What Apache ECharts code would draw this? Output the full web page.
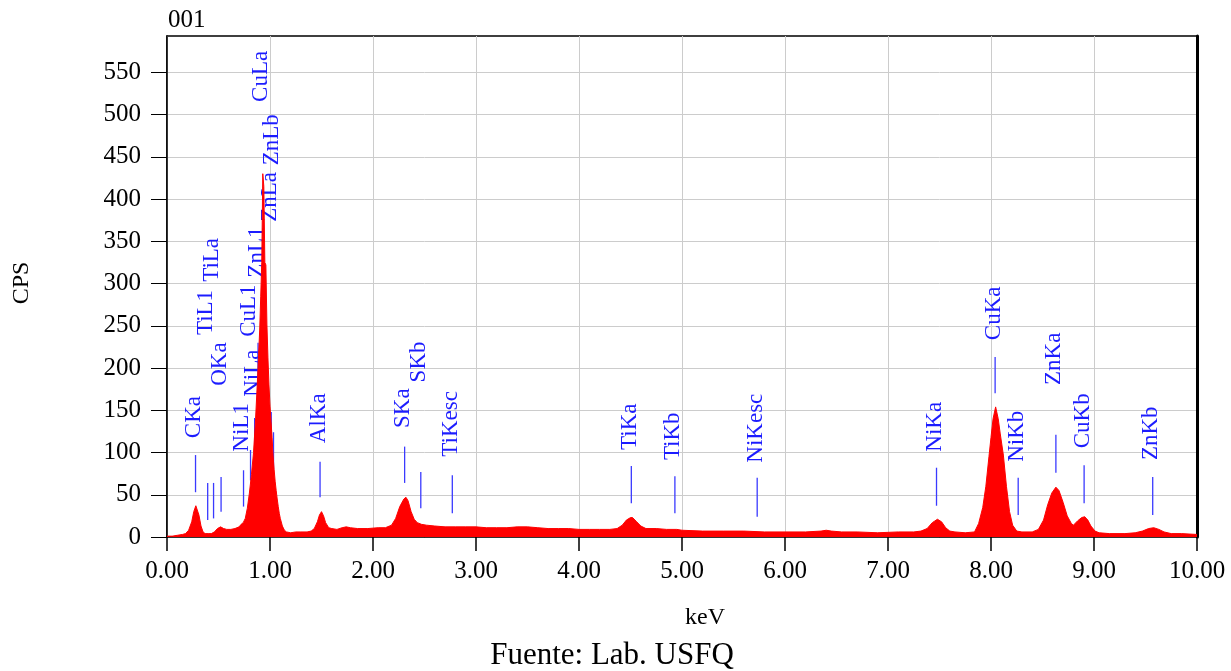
<!DOCTYPE html>
<html>
<head>
<meta charset="utf-8">
<title>EDS 001</title>
<script src="https://cdn.jsdelivr.net/npm/echarts@6/dist/echarts.min.js"></script>
<style>
  html, body { margin: 0; padding: 0; background: #fff; }
  #chart { width: 1231px; height: 671px; }
</style>
</head>
<body>
<div id="chart"></div>
<script>
// Spectrum: energy (keV) and counts per second
const energyKeV = [
  0.00, 0.05, 0.10, 0.15, 0.18, 0.21, 0.24, 0.26, 0.28, 0.29, 0.31, 0.33, 0.35, 0.37, 0.40, 0.43,
  0.46, 0.49, 0.52, 0.55, 0.58, 0.62, 0.66, 0.70, 0.72, 0.74, 0.76, 0.78, 0.80, 0.82, 0.84, 0.86,
  0.88, 0.90, 0.91, 0.92, 0.93, 0.94, 0.95, 0.96, 0.97, 0.98, 0.99, 1.00, 1.01, 1.02, 1.03, 1.04,
  1.05, 1.06, 1.07, 1.08, 1.09, 1.10, 1.12, 1.14, 1.16, 1.20, 1.25, 1.30, 1.36, 1.40, 1.43, 1.46,
  1.48, 1.50, 1.52, 1.54, 1.57, 1.60, 1.65, 1.70, 1.74, 1.78, 1.85, 1.95, 2.05, 2.12, 2.18, 2.22,
  2.26, 2.30, 2.32, 2.34, 2.37, 2.40, 2.43, 2.47, 2.52, 2.60, 2.70, 2.80, 2.90, 3.00, 3.10, 3.20,
  3.30, 3.40, 3.50, 3.60, 3.70, 3.80, 3.90, 4.00, 4.10, 4.20, 4.30, 4.37, 4.42, 4.46, 4.50, 4.52,
  4.56, 4.60, 4.65, 4.75, 4.85, 4.95, 5.00, 5.20, 5.40, 5.60, 5.80, 6.00, 6.20, 6.35, 6.40, 6.45,
  6.55, 6.70, 6.90, 7.10, 7.25, 7.32, 7.38, 7.43, 7.48, 7.52, 7.56, 7.60, 7.65, 7.75, 7.84, 7.88,
  7.92, 7.95, 7.98, 8.00, 8.02, 8.045, 8.07, 8.09, 8.12, 8.15, 8.18, 8.21, 8.25, 8.30, 8.40, 8.46,
  8.51, 8.55, 8.59, 8.63, 8.66, 8.70, 8.74, 8.78, 8.80, 8.84, 8.88, 8.91, 8.94, 8.97, 9.01, 9.05,
  9.15, 9.30, 9.40, 9.47, 9.53, 9.58, 9.63, 9.68, 9.75, 9.85, 10.00
];
const cps = [
  1, 1, 2, 3, 4, 8, 18, 30, 37, 36, 26, 13, 6, 4, 4, 4,
  6, 10, 12, 10, 9, 9, 10, 12, 15, 17, 22, 34, 52, 74, 100, 140,
  190, 245, 285, 325, 430, 415, 325, 322, 252, 212, 180, 155, 137, 118, 96, 80,
  66, 55, 45, 36, 28, 22, 13, 8, 6, 5, 6, 6, 6, 7, 10, 18,
  26, 30, 25, 17, 11, 10, 9, 11, 12, 11, 10, 10, 11, 11, 14, 22,
  36, 45, 47, 43, 30, 21, 17, 15, 14, 13, 12, 12, 12, 12, 11, 11,
  11, 12, 12, 11, 10, 10, 10, 9, 9, 9, 9, 10, 14, 20, 23, 23,
  18, 13, 10, 10, 9, 9, 8, 7, 7, 7, 6, 6, 6, 7, 8, 7,
  6, 6, 5, 6, 6, 7, 10, 17, 21, 18, 11, 7, 6, 5, 6, 16,
  35, 60, 95, 118, 140, 154, 140, 122, 97, 60, 30, 14, 7, 6, 6, 9,
  20, 38, 52, 59, 55, 41, 25, 16, 14, 19, 23, 24, 20, 13, 7, 5,
  4, 4, 5, 7, 10, 11, 9, 6, 4, 4, 3
];

// Identified emission lines
const lineNames    = ['CKa', 'TiL1', 'TiLa', 'OKa', 'NiL1', 'CuL1', 'NiLa', 'ZnL1', 'CuLa', 'ZnLa', 'ZnLb',
                      'AlKa', 'SKa', 'SKb', 'TiKesc', 'TiKa', 'TiKb', 'NiKesc', 'NiKa', 'CuKa', 'NiKb',
                      'ZnKa', 'CuKb', 'ZnKb'];
const lineEnergies = [0.277, 0.395, 0.452, 0.525, 0.743, 0.811, 0.851, 0.884, 0.930, 1.012, 1.034,
                      1.486, 2.307, 2.464, 2.770, 4.508, 4.931, 5.730, 7.471, 8.040, 8.264,
                      8.630, 8.904, 9.570];
// Marker tick span (CPS) and where each rotated name starts (CPS)
const markerLow    = [53, 20, 22, 30, 36, 67, 97, 170, 140, 83, 79,
                      47, 64, 34, 28, 40, 28, 24, 37, 170, 26,
                      76, 40, 26];
const markerHigh   = [97, 64, 64, 71, 79, 103, 141, 230, 185, 148, 124,
                      89, 107, 77, 73, 84, 72, 70, 82, 213, 70,
                      121, 85, 71];
const nameBase     = [117, 239, 302, 179, 101, 237, 166, 307, 515, 373, 440,
                      111, 129, 183, 95, 103, 91, 88, 101, 233, 89,
                      180, 105, 91];

const yTickValues = [0, 50, 100, 150, 200, 250, 300, 350, 400, 450, 500, 550];
const xTickValues = [0, 1, 2, 3, 4, 5, 6, 7, 8, 9, 10];

const SERIF = "'Liberation Serif', 'DejaVu Serif', serif";

const spectrum = energyKeV.map((e, i) => [e, cps[i]]);
const markers = lineNames.map((n, i) => [lineEnergies[i], markerLow[i], markerHigh[i], nameBase[i], n]);

const chart = echarts.init(document.getElementById('chart'), null, { renderer: 'canvas' });

chart.setOption({
  animation: false,
  backgroundColor: '#ffffff',
  grid: {
    left: 167, top: 36, width: 1030, height: 501,
    show: true, borderColor: '#000', borderWidth: 1.5, backgroundColor: 'transparent'
  },
  xAxis: {
    type: 'value', min: 0, max: 10, interval: 1,
    axisLine: { show: true, lineStyle: { color: '#000', width: 1.5 } },
    axisTick: { show: true, inside: false, length: 14, lineStyle: { color: '#000', width: 1.5 },
                customValues: xTickValues },
    axisLabel: { color: '#000', fontFamily: SERIF, fontSize: 25, margin: 22,
                 customValues: xTickValues, formatter: v => v.toFixed(2) },
    splitLine: { show: true, lineStyle: { color: '#cccccc', width: 1 } }
  },
  yAxis: [{
    type: 'value', min: 0, max: 593, interval: 50,
    axisLine: { show: true, lineStyle: { color: '#000', width: 1.5 } },
    axisTick: { show: true, inside: false, length: 16, lineStyle: { color: '#000', width: 1 },
                customValues: yTickValues },
    axisLabel: { color: '#000', fontFamily: SERIF, fontSize: 25, margin: 26,
                 customValues: yTickValues },
    splitLine: { show: true, lineStyle: { color: '#cccccc', width: 1 } }
  }, {
    type: 'value', min: 0, max: 593, position: 'right',
    axisLine: { show: true, lineStyle: { color: '#000', width: 3 } },
    axisTick: { show: false }, axisLabel: { show: false }, splitLine: { show: false }
  }],
  series: [{
    type: 'custom',
    name: 'lines',
    z: 1,
    clip: false,
    data: markers,
    encode: { x: 0, y: [1, 2, 3] },
    renderItem: function (params, api) {
      const e = api.value(0);
      const pLo = api.coord([e, api.value(1)]);
      const pHi = api.coord([e, api.value(2)]);
      const pTx = api.coord([e, api.value(3)]);
      return {
        type: 'group',
        children: [{
          type: 'line',
          shape: { x1: pLo[0], y1: pLo[1], x2: pHi[0], y2: pHi[1] },
          style: { stroke: '#3a3aff', lineWidth: 1.3 }
        }, {
          type: 'text',
          x: pTx[0] - 1.5, y: pTx[1],
          rotation: Math.PI / 2,
          style: {
            text: markers[params.dataIndex][4],
            fill: '#1c1cff',
            font: '23px ' + SERIF,
            align: 'left', verticalAlign: 'middle'
          }
        }]
      };
    }
  }, {
    type: 'line',
    name: 'spectrum',
    z: 3,
    data: spectrum,
    symbol: 'none',
    showSymbol: false,
    lineStyle: { color: '#ff0000', width: 1 },
    areaStyle: { color: '#ff0000', opacity: 1 },
    itemStyle: { color: '#ff0000' }
  }],
  graphic: [
    { type: 'text', left: 168, top: 8,
      style: { text: '001', font: '25px ' + SERIF, fill: '#000' } },
    { type: 'text', x: 22, y: 283, rotation: Math.PI / 2,
      style: { text: 'CPS', font: '24px ' + SERIF, fill: '#000', align: 'center', verticalAlign: 'middle' } },
    { type: 'text', x: 705, y: 618,
      style: { text: 'keV', font: '24px ' + SERIF, fill: '#000', align: 'center', verticalAlign: 'middle' } },
    { type: 'text', x: 612, y: 656,
      style: { text: 'Fuente: Lab. USFQ', font: '31px ' + SERIF, fill: '#000', align: 'center', verticalAlign: 'middle' } }
  ]
});
</script>
</body>
</html>
